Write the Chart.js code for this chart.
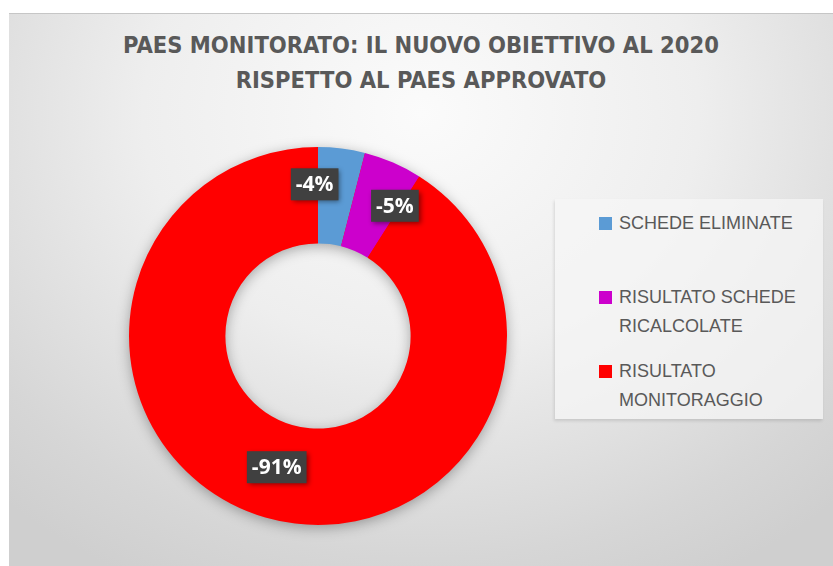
<!DOCTYPE html>
<html>
<head>
<meta charset="utf-8">
<script src="https://cdn.jsdelivr.net/npm/chart.js@4/dist/chart.umd.min.js"></script>
<style>
  body { margin: 0; background: #fff; width: 833px; height: 566px; overflow: hidden; }
  #frame {
    position: absolute; left: 9px; top: 13px; width: 824px; height: 553px;
    border-top: 1px solid #c6c6c6; box-sizing: border-box;
    background: radial-gradient(ellipse 75% 95% at 50% 18%, #fbfbfb 0%, #eeeeee 45%, #d6d6d6 85%, #cfcfcf 100%);
    font-family: "Liberation Sans", Arial, sans-serif;
  }
  #title {
    position: absolute; left: 0; top: 14px; width: 824px; text-align: center;
    font-family: "DejaVu Sans Condensed", "DejaVu Sans", sans-serif;
    font-weight: bold; font-size: 23.5px; line-height: 35px; color: #595959;
  }
  #legend {
    position: absolute; left: 546px; top: 185px; width: 268px; height: 220px;
    background: rgba(246,246,246,0.75); box-shadow: -1px 2px 3px rgba(0,0,0,0.12);
  }
  .item { position: absolute; left: 44px; height: 74px; font-size: 18px; line-height: 29px; color: #595959; }
  .item .sw { position: absolute; left: 0; top: 8px; width: 13px; height: 13px; }
  .item .tx { position: absolute; left: 20px; top: 0; white-space: nowrap; }
  #wrap { position: absolute; left: 100px; top: 113px; width: 418px; height: 418px; }
</style>
</head>
<body>
<div id="frame">
  <div id="title"></div>
  <div id="legend"></div>
  <div id="wrap"><canvas id="donut"></canvas></div>
</div>
<script>
// Chart data
const titleLines = ['PAES MONITORATO: IL NUOVO OBIETTIVO AL 2020', 'RISPETTO AL PAES APPROVATO'];
const categories = [['SCHEDE ELIMINATE'], ['RISULTATO SCHEDE', 'RICALCOLATE'], ['RISULTATO', 'MONITORAGGIO']];
const values = [4, 5, 91];
const valueLabels = ['-4%', '-5%', '-91%'];
const colors = ['#5B9BD5', '#CC00CC', '#FF0000'];

document.getElementById('title').innerHTML = titleLines.join('<br>');

// Ring shadow under the doughnut
const ringShadow = {
  id: 'ringShadow',
  beforeDatasetsDraw(chart) {
    const arc = chart.getDatasetMeta(0).data[0];
    if (!arc) return;
    const { x, y, innerRadius, outerRadius } = arc.getProps(['x', 'y', 'innerRadius', 'outerRadius'], true);
    const ctx = chart.ctx;
    ctx.save();
    ctx.shadowColor = 'rgba(0,0,0,0.35)';
    ctx.shadowBlur = 14;
    ctx.shadowOffsetY = 3;
    ctx.fillStyle = '#ff0000';
    ctx.beginPath();
    ctx.arc(x, y, outerRadius - 1, 0, Math.PI * 2);
    ctx.arc(x, y, innerRadius + 1, 0, Math.PI * 2, true);
    ctx.fill();
    ctx.restore();
  }
};

// Dark boxed value labels
const boxLabels = {
  id: 'boxLabels',
  afterDatasetsDraw(chart, args, opts) {
    const ctx = chart.ctx;
    chart.getDatasetMeta(0).data.forEach((arc, i) => {
      const p = arc.getProps(['x', 'y', 'startAngle', 'endAngle', 'innerRadius', 'outerRadius'], true);
      const mid = (p.startAngle + p.endAngle) / 2;
      const r = (p.innerRadius + p.outerRadius) / 2;
      const off = opts.offsets[i] || [0, 0];
      const cx = p.x + Math.cos(mid) * r + off[0];
      const cy = p.y + Math.sin(mid) * r + off[1];
      const text = valueLabels[i];
      ctx.save();
      ctx.font = 'bold 21px "Open Sans", "DejaVu Sans", sans-serif';
      const w = ctx.measureText(text).width + 10;
      const h = 32;
      ctx.shadowColor = 'rgba(0,0,0,0.45)';
      ctx.shadowBlur = 5;
      ctx.shadowOffsetX = 2;
      ctx.shadowOffsetY = 2;
      ctx.fillStyle = '#404040';
      ctx.fillRect(cx - w / 2, cy - h / 2, w, h);
      ctx.restore();
      ctx.save();
      ctx.font = 'bold 21px "Open Sans", "DejaVu Sans", sans-serif';
      ctx.fillStyle = '#ffffff';
      ctx.textAlign = 'center';
      ctx.textBaseline = 'middle';
      ctx.fillText(text, cx, cy + 1);
      ctx.restore();
    });
  }
};

const chart = new Chart(document.getElementById('donut'), {
  type: 'doughnut',
  data: {
    labels: categories,
    datasets: [{
      data: values,
      backgroundColor: colors,
      borderWidth: 0
    }]
  },
  options: {
    responsive: true,
    maintainAspectRatio: false,
    animation: false,
    cutout: '49%',
    layout: { padding: 20 },
    plugins: {
      legend: { display: false },
      tooltip: { enabled: false },
      boxLabels: { offsets: [[-21, -12], [21, -1], [-2, -4]] }
    }
  },
  plugins: [ringShadow, boxLabels]
});

// HTML legend built from the chart's own labels
const legendEl = document.getElementById('legend');
const tops = [10, 84, 158];
chart.data.labels.forEach((lab, i) => {
  const item = document.createElement('div');
  item.className = 'item';
  item.style.top = tops[i] + 'px';
  item.innerHTML = `<div class="sw" style="background:${colors[i]}"></div><div class="tx">${lab.join('<br>')}</div>`;
  legendEl.appendChild(item);
});
</script>
</body>
</html>
